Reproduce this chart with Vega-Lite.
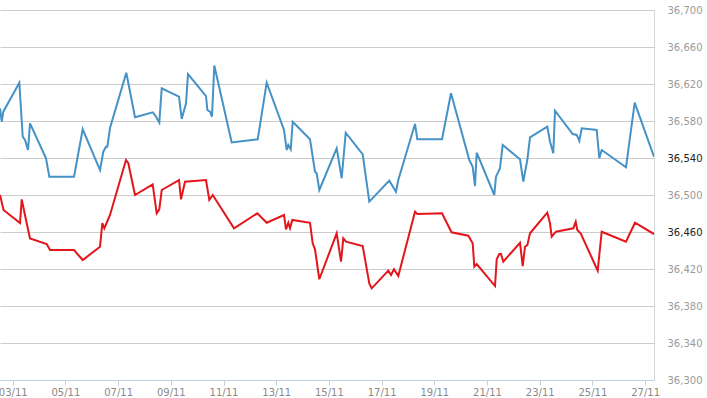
{
  "$schema": "https://vega.github.io/schema/vega-lite/v6.json",
  "width": 654,
  "height": 370,
  "autosize": {"type": "none"},
  "padding": {"left": 0, "top": 10, "right": 53, "bottom": 18},
  "background": "white",
  "config": {"view": {"stroke": null}},
  "datasets": {
    "prices": [
      {"s": "upper", "t": "2013-11-02T12:26", "v": 36593.7},
      {"s": "upper", "t": "2013-11-02T13:59", "v": 36579.2},
      {"s": "upper", "t": "2013-11-02T15:26", "v": 36590.1},
      {"s": "upper", "t": "2013-11-03T06:01", "v": 36621.4},
      {"s": "upper", "t": "2013-11-03T09:07", "v": 36563.0},
      {"s": "upper", "t": "2013-11-03T11:12", "v": 36559.5},
      {"s": "upper", "t": "2013-11-03T13:56", "v": 36548.6},
      {"s": "upper", "t": "2013-11-03T15:45", "v": 36577.5},
      {"s": "upper", "t": "2013-11-04T06:20", "v": 36539.7},
      {"s": "upper", "t": "2013-11-04T09:20", "v": 36519.8},
      {"s": "upper", "t": "2013-11-05T07:50", "v": 36519.8},
      {"s": "upper", "t": "2013-11-05T15:45", "v": 36571.0},
      {"s": "upper", "t": "2013-11-06T07:31", "v": 36527.0},
      {"s": "upper", "t": "2013-11-06T10:31", "v": 36546.8},
      {"s": "upper", "t": "2013-11-06T12:59", "v": 36552.2},
      {"s": "upper", "t": "2013-11-06T14:10", "v": 36552.2},
      {"s": "upper", "t": "2013-11-06T16:37", "v": 36572.4},
      {"s": "upper", "t": "2013-11-07T07:28", "v": 36632.2},
      {"s": "upper", "t": "2013-11-07T15:23", "v": 36584.0},
      {"s": "upper", "t": "2013-11-08T07:30", "v": 36589.4},
      {"s": "upper", "t": "2013-11-08T09:36", "v": 36586.5},
      {"s": "upper", "t": "2013-11-08T13:31", "v": 36578.2},
      {"s": "upper", "t": "2013-11-08T15:43", "v": 36615.4},
      {"s": "upper", "t": "2013-11-09T07:28", "v": 36606.3},
      {"s": "upper", "t": "2013-11-09T09:56", "v": 36582.2},
      {"s": "upper", "t": "2013-11-09T13:50", "v": 36599.1},
      {"s": "upper", "t": "2013-11-09T15:40", "v": 36630.8},
      {"s": "upper", "t": "2013-11-10T08:04", "v": 36607.0},
      {"s": "upper", "t": "2013-11-10T09:14", "v": 36591.9},
      {"s": "upper", "t": "2013-11-10T11:42", "v": 36590.1},
      {"s": "upper", "t": "2013-11-10T13:31", "v": 36584.6},
      {"s": "upper", "t": "2013-11-10T15:37", "v": 36640.0},
      {"s": "upper", "t": "2013-11-11T07:28", "v": 36556.8},
      {"s": "upper", "t": "2013-11-12T07:09", "v": 36560.2},
      {"s": "upper", "t": "2013-11-12T15:20", "v": 36621.4},
      {"s": "upper", "t": "2013-11-13T07:06", "v": 36570.3},
      {"s": "upper", "t": "2013-11-13T09:34", "v": 36548.6},
      {"s": "upper", "t": "2013-11-13T11:01", "v": 36554.0},
      {"s": "upper", "t": "2013-11-13T13:12", "v": 36549.4},
      {"s": "upper", "t": "2013-11-13T15:01", "v": 36579.2},
      {"s": "upper", "t": "2013-11-14T06:47", "v": 36560.2},
      {"s": "upper", "t": "2013-11-14T11:20", "v": 36525.2},
      {"s": "upper", "t": "2013-11-14T12:53", "v": 36523.5},
      {"s": "upper", "t": "2013-11-14T15:15", "v": 36505.4},
      {"s": "upper", "t": "2013-11-15T07:06", "v": 36550.5},
      {"s": "upper", "t": "2013-11-15T11:39", "v": 36518.1},
      {"s": "upper", "t": "2013-11-15T15:18", "v": 36567.3},
      {"s": "upper", "t": "2013-11-16T06:47", "v": 36544.0},
      {"s": "upper", "t": "2013-11-16T12:47", "v": 36492.8},
      {"s": "upper", "t": "2013-11-17T07:01", "v": 36515.5},
      {"s": "upper", "t": "2013-11-17T13:07", "v": 36503.6},
      {"s": "upper", "t": "2013-11-17T15:12", "v": 36516.2},
      {"s": "upper", "t": "2013-11-18T06:25", "v": 36576.8},
      {"s": "upper", "t": "2013-11-18T08:31", "v": 36560.2},
      {"s": "upper", "t": "2013-11-19T07:01", "v": 36560.2},
      {"s": "upper", "t": "2013-11-19T15:12", "v": 36610.0},
      {"s": "upper", "t": "2013-11-20T07:52", "v": 36537.8},
      {"s": "upper", "t": "2013-11-20T10:58", "v": 36530.6},
      {"s": "upper", "t": "2013-11-20T13:04", "v": 36509.7},
      {"s": "upper", "t": "2013-11-20T14:37", "v": 36545.7},
      {"s": "upper", "t": "2013-11-21T06:38", "v": 36500.0},
      {"s": "upper", "t": "2013-11-21T08:11", "v": 36519.8},
      {"s": "upper", "t": "2013-11-21T11:50", "v": 36528.9},
      {"s": "upper", "t": "2013-11-21T14:17", "v": 36554.0},
      {"s": "upper", "t": "2013-11-22T06:03", "v": 36538.6},
      {"s": "upper", "t": "2013-11-22T09:03", "v": 36514.4},
      {"s": "upper", "t": "2013-11-22T12:42", "v": 36537.8},
      {"s": "upper", "t": "2013-11-22T15:10", "v": 36562.4},
      {"s": "upper", "t": "2013-11-23T06:55", "v": 36573.8},
      {"s": "upper", "t": "2013-11-23T09:22", "v": 36557.8},
      {"s": "upper", "t": "2013-11-23T12:23", "v": 36545.1},
      {"s": "upper", "t": "2013-11-23T13:56", "v": 36591.1},
      {"s": "upper", "t": "2013-11-24T06:03", "v": 36565.9},
      {"s": "upper", "t": "2013-11-24T09:41", "v": 36564.9},
      {"s": "upper", "t": "2013-11-24T12:04", "v": 36558.4},
      {"s": "upper", "t": "2013-11-24T14:15", "v": 36572.1},
      {"s": "upper", "t": "2013-11-25T03:55", "v": 36570.3},
      {"s": "upper", "t": "2013-11-25T06:17", "v": 36539.7},
      {"s": "upper", "t": "2013-11-25T08:28", "v": 36548.6},
      {"s": "upper", "t": "2013-11-26T06:35", "v": 36529.9},
      {"s": "upper", "t": "2013-11-26T14:31", "v": 36599.8},
      {"s": "upper", "t": "2013-11-27T08:06", "v": 36541.4},
      {"s": "lower", "t": "2013-11-02T12:26", "v": 36500.0},
      {"s": "lower", "t": "2013-11-02T15:37", "v": 36483.8},
      {"s": "lower", "t": "2013-11-03T06:39", "v": 36469.7},
      {"s": "lower", "t": "2013-11-03T08:12", "v": 36495.3},
      {"s": "lower", "t": "2013-11-03T12:07", "v": 36473.0},
      {"s": "lower", "t": "2013-11-03T15:45", "v": 36453.0},
      {"s": "lower", "t": "2013-11-04T06:58", "v": 36447.0},
      {"s": "lower", "t": "2013-11-04T09:58", "v": 36440.5},
      {"s": "lower", "t": "2013-11-05T07:50", "v": 36440.5},
      {"s": "lower", "t": "2013-11-05T15:45", "v": 36429.7},
      {"s": "lower", "t": "2013-11-06T07:31", "v": 36444.1},
      {"s": "lower", "t": "2013-11-06T09:37", "v": 36469.7},
      {"s": "lower", "t": "2013-11-06T11:26", "v": 36464.0},
      {"s": "lower", "t": "2013-11-06T13:53", "v": 36470.8},
      {"s": "lower", "t": "2013-11-06T16:37", "v": 36478.4},
      {"s": "lower", "t": "2013-11-07T07:11", "v": 36537.8},
      {"s": "lower", "t": "2013-11-07T09:17", "v": 36534.3},
      {"s": "lower", "t": "2013-11-07T15:23", "v": 36500.0},
      {"s": "lower", "t": "2013-11-08T07:30", "v": 36511.6},
      {"s": "lower", "t": "2013-11-08T11:09", "v": 36480.2},
      {"s": "lower", "t": "2013-11-08T13:31", "v": 36484.5},
      {"s": "lower", "t": "2013-11-08T15:43", "v": 36505.4},
      {"s": "lower", "t": "2013-11-09T07:28", "v": 36516.2},
      {"s": "lower", "t": "2013-11-09T09:17", "v": 36495.3},
      {"s": "lower", "t": "2013-11-09T12:56", "v": 36514.4},
      {"s": "lower", "t": "2013-11-10T08:04", "v": 36516.2},
      {"s": "lower", "t": "2013-11-10T11:04", "v": 36494.6},
      {"s": "lower", "t": "2013-11-10T14:10", "v": 36500.0},
      {"s": "lower", "t": "2013-11-11T09:34", "v": 36464.0},
      {"s": "lower", "t": "2013-11-12T06:47", "v": 36480.2},
      {"s": "lower", "t": "2013-11-12T15:20", "v": 36470.0},
      {"s": "lower", "t": "2013-11-13T07:06", "v": 36478.4},
      {"s": "lower", "t": "2013-11-13T08:55", "v": 36462.9},
      {"s": "lower", "t": "2013-11-13T11:01", "v": 36470.0},
      {"s": "lower", "t": "2013-11-13T12:34", "v": 36464.0},
      {"s": "lower", "t": "2013-11-13T14:40", "v": 36473.0},
      {"s": "lower", "t": "2013-11-14T06:47", "v": 36470.0},
      {"s": "lower", "t": "2013-11-14T09:14", "v": 36447.8},
      {"s": "lower", "t": "2013-11-14T11:20", "v": 36441.3},
      {"s": "lower", "t": "2013-11-14T15:15", "v": 36408.9},
      {"s": "lower", "t": "2013-11-15T07:06", "v": 36458.6},
      {"s": "lower", "t": "2013-11-15T11:01", "v": 36427.9},
      {"s": "lower", "t": "2013-11-15T13:07", "v": 36453.2},
      {"s": "lower", "t": "2013-11-15T15:34", "v": 36449.5},
      {"s": "lower", "t": "2013-11-16T06:47", "v": 36444.9},
      {"s": "lower", "t": "2013-11-16T12:47", "v": 36404.5},
      {"s": "lower", "t": "2013-11-16T14:59", "v": 36399.1},
      {"s": "lower", "t": "2013-11-17T06:06", "v": 36418.2},
      {"s": "lower", "t": "2013-11-17T08:34", "v": 36413.5},
      {"s": "lower", "t": "2013-11-17T11:17", "v": 36419.7},
      {"s": "lower", "t": "2013-11-17T15:12", "v": 36412.4},
      {"s": "lower", "t": "2013-11-18T06:25", "v": 36481.9},
      {"s": "lower", "t": "2013-11-18T08:31", "v": 36479.5},
      {"s": "lower", "t": "2013-11-19T07:01", "v": 36480.2},
      {"s": "lower", "t": "2013-11-19T15:40", "v": 36459.7},
      {"s": "lower", "t": "2013-11-20T06:58", "v": 36456.0},
      {"s": "lower", "t": "2013-11-20T10:58", "v": 36447.8},
      {"s": "lower", "t": "2013-11-20T12:26", "v": 36422.5},
      {"s": "lower", "t": "2013-11-20T14:37", "v": 36425.4},
      {"s": "lower", "t": "2013-11-21T07:17", "v": 36401.6},
      {"s": "lower", "t": "2013-11-21T08:50", "v": 36430.5},
      {"s": "lower", "t": "2013-11-21T11:12", "v": 36436.2},
      {"s": "lower", "t": "2013-11-21T12:44", "v": 36436.2},
      {"s": "lower", "t": "2013-11-21T14:50", "v": 36427.9},
      {"s": "lower", "t": "2013-11-22T06:03", "v": 36448.4},
      {"s": "lower", "t": "2013-11-22T08:31", "v": 36423.2},
      {"s": "lower", "t": "2013-11-22T10:36", "v": 36444.1},
      {"s": "lower", "t": "2013-11-22T12:42", "v": 36445.8},
      {"s": "lower", "t": "2013-11-22T15:10", "v": 36458.6},
      {"s": "lower", "t": "2013-11-23T06:55", "v": 36480.9},
      {"s": "lower", "t": "2013-11-23T09:22", "v": 36469.4},
      {"s": "lower", "t": "2013-11-23T10:55", "v": 36454.9},
      {"s": "lower", "t": "2013-11-23T14:50", "v": 36460.3},
      {"s": "lower", "t": "2013-11-24T06:36", "v": 36464.0},
      {"s": "lower", "t": "2013-11-24T08:47", "v": 36471.1},
      {"s": "lower", "t": "2013-11-24T10:14", "v": 36462.2},
      {"s": "lower", "t": "2013-11-24T13:18", "v": 36458.6},
      {"s": "lower", "t": "2013-11-25T04:49", "v": 36418.2},
      {"s": "lower", "t": "2013-11-25T08:28", "v": 36460.3},
      {"s": "lower", "t": "2013-11-26T06:35", "v": 36449.5},
      {"s": "lower", "t": "2013-11-26T14:47", "v": 36470.0},
      {"s": "lower", "t": "2013-11-27T08:06", "v": 36457.8}
    ]
  },
  "data": {"name": "prices"},
  "mark": {"type": "line", "strokeWidth": 2, "clip": true},
  "encoding": {
    "x": {
      "field": "t",
      "type": "temporal",
      "scale": {
        "domain": [
          {"year": 2013, "month": 11, "date": 2, "hours": 12, "minutes": 25},
          {"year": 2013, "month": 11, "date": 27, "hours": 8, "minutes": 6}
        ]
      },
      "axis": {
        "title": null,
        "format": "%d/%m",
        "tickCount": {"interval": "day", "step": 2},
        "grid": false,
        "domainColor": "#c3d1de",
        "tickColor": "#c3d1de",
        "tickSize": 5,
        "labelColor": "#8a8a8a",
        "labelFont": "DejaVu Sans",
        "labelFontSize": 10,
        "labelPadding": 2,
        "labelFlush": false,
        "labelOverlap": false
      }
    },
    "y": {
      "field": "v",
      "type": "quantitative",
      "scale": {"domain": [36300, 36700], "nice": false, "zero": false},
      "axis": {
        "orient": "right",
        "title": null,
        "values": [36300, 36340, 36380, 36420, 36460, 36500, 36540, 36580, 36620, 36660, 36700],
        "format": ",d",
        "grid": true,
        "gridColor": "#cccccc",
        "gridWidth": 1,
        "domainColor": "#d6d6d6",
        "ticks": false,
        "labelPadding": 13,
        "labelColor": {"expr": "datum.value === 36540 || datum.value === 36460 ? '#222222' : '#9a9a9a'"},
        "labelFont": "DejaVu Sans",
        "labelFontSize": 10,
        "labelBaseline": "middle"
      }
    },
    "color": {
      "field": "s",
      "type": "nominal",
      "scale": {"domain": ["upper", "lower"], "range": ["#4592c6", "#e3161c"]},
      "legend": null
    }
  }
}
